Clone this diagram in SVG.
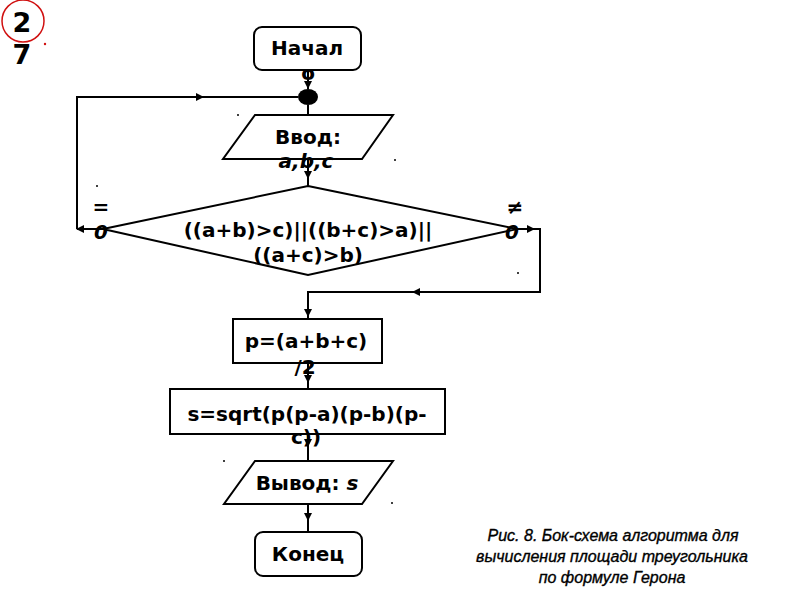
<svg xmlns="http://www.w3.org/2000/svg" width="800" height="600" viewBox="0 0 800 600">
<defs>
<style>
.sh{fill:#fff;stroke:#000;stroke-width:2}
.t{font-family:"DejaVu Sans",sans-serif;font-weight:bold;font-size:20px;text-anchor:middle;fill:#000}
.it{font-style:italic}
.ln{fill:none;stroke:#000;stroke-width:2}
.cap{font-family:"Liberation Sans Narrow","Liberation Sans",sans-serif;font-style:italic;font-size:16px;text-anchor:middle;fill:#000;stroke:#000;stroke-width:0.35}
.bd{font-family:"DejaVu Sans",sans-serif;font-weight:bold;font-size:27px;text-anchor:middle;fill:#000}
</style>
</defs>
<rect width="800" height="600" fill="#fff"/>
<g id="badge">
<circle cx="23" cy="21" r="21" fill="none" stroke="#d01010" stroke-width="1.5"/>
<text class="bd" x="22" y="32">2</text>
<text class="bd" x="22" y="64">7</text>
<circle cx="45" cy="44" r="1.2" fill="#d01010"/>
</g>
<g id="connectors">
<line class="ln" x1="308" y1="70" x2="308" y2="89"/>
<path d="M304,81 L308,89 L312,81 Z" fill="#000"/>
<line class="ln" x1="308" y1="105" x2="308" y2="115"/>
<line class="ln" x1="308" y1="159" x2="308" y2="186"/>
<path d="M304,171 L308,179 L312,171 Z" fill="#000"/>
<polyline class="ln" points="103,229 77,229"/>
<path d="M84,225 L76,229 L84,233 Z" fill="#000"/>
<polyline class="ln" points="77,229 77,97 298,97"/>
<path d="M196,93 L204,97 L196,101 Z" fill="#000"/>
<polyline class="ln" points="512,229 540,229 540,292 308,292 308,319"/>
<path d="M527,225 L535,229 L527,233 Z" fill="#000"/>
<path d="M420,288 L412,292 L420,296 Z" fill="#000"/>
<path d="M304,309 L308,317 L312,309 Z" fill="#000"/>
<line class="ln" x1="308" y1="363" x2="308" y2="389"/>
<path d="M304,375 L308,383 L312,375 Z" fill="#000"/>
<line class="ln" x1="308" y1="434" x2="308" y2="461"/>
<path d="M304,439 L308,447 L312,439 Z" fill="#000"/>
<line class="ln" x1="308" y1="504" x2="308" y2="532"/>
<path d="M304,513 L308,521 L312,513 Z" fill="#000"/>
</g>
<g id="start">
<rect class="sh" x="254" y="27" width="107" height="43" rx="8"/>
<text class="t" x="307" y="55">Начал</text>
<text class="t" x="308" y="80">о</text>
</g>
<g id="junction">
<ellipse cx="308" cy="97" rx="10" ry="8" fill="#000"/>
</g>
<g id="input">
<polygon class="sh" points="255,115 393,115 362,159 223,159"/>
<text class="t" x="308" y="144">Ввод:</text>
<text class="t it" x="306" y="168">a,b,c</text>
</g>
<g id="decision">
<polygon class="sh" points="308,186 517,229 308,275 103,229"/>
<text class="t" x="308" y="237">((a+b)&gt;c)||((b+c)&gt;a)||</text>
<text class="t" x="308" y="262">((a+c)&gt;b)</text>
<text class="t" x="101" y="214">=</text>
<text class="t it" x="101" y="239">0</text>
<text class="t" x="515" y="214">≠</text>
<text class="t it" x="512" y="239">0</text>
</g>
<g id="calc-p">
<rect class="sh" x="233" y="319" width="149" height="44"/>
<text class="t" x="306" y="348">p=(a+b+c)</text>
<text class="t" x="305" y="374">/2</text>
</g>
<g id="calc-s">
<rect class="sh" x="170" y="389" width="275" height="45"/>
<text class="t" x="307" y="421">s=sqrt(p(p-a)(p-b)(p-</text>
<text class="t" x="306" y="444">c))</text>
</g>
<g id="output">
<polygon class="sh" points="255,461 393,461 362,504 224,504"/>
<text class="t" x="307" y="490">Вывод: <tspan class="it">s</tspan></text>
</g>
<g id="end">
<rect class="sh" x="255" y="532" width="107" height="44" rx="8"/>
<text class="t" x="308" y="561">Конец</text>
</g>
<g id="caption">
<text class="cap" x="613" y="541">Рис. 8. Бок-схема алгоритма для</text>
<text class="cap" x="612" y="562">вычисления площади треугольника</text>
<text class="cap" x="612" y="583">по формуле Герона</text>
</g>
<g id="specks" fill="#000">
<circle cx="97" cy="186" r="1"/>
<circle cx="238" cy="115" r="1"/>
<circle cx="395" cy="160" r="1"/>
<circle cx="518" cy="273" r="1"/>
<circle cx="224" cy="461" r="1"/>
<circle cx="392" cy="503" r="1"/>
</g>
</svg>
